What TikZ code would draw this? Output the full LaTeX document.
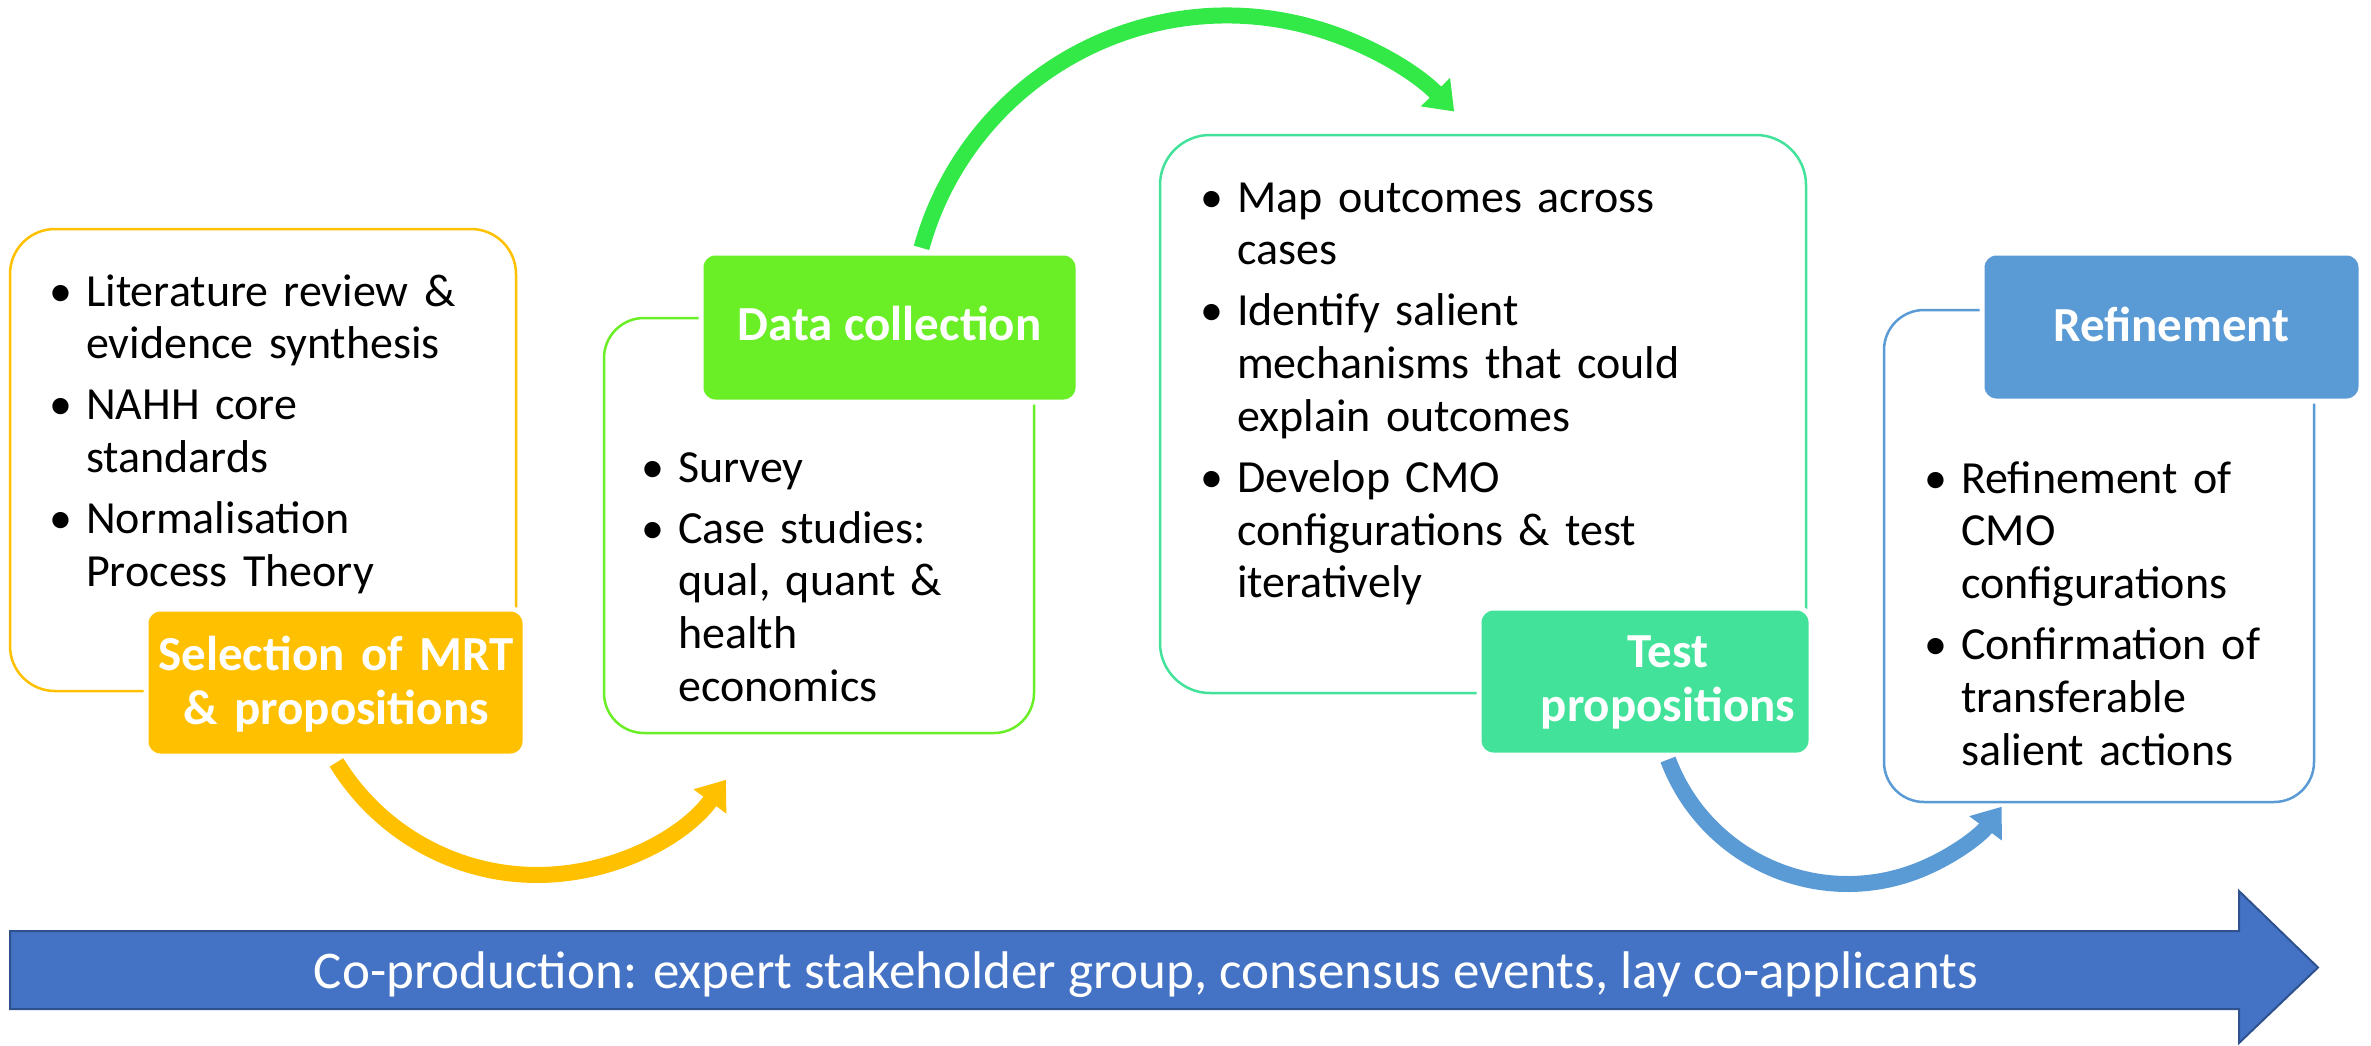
\documentclass[tikz,border=0pt]{standalone}
\usepackage{fontspec}
\setmainfont{Carlito}
\usetikzlibrary{arrows.meta}
\definecolor{ygold}{RGB}{255,192,0}
\definecolor{gbox}{RGB}{106,238,38}
\definecolor{garrow}{RGB}{50,233,72}
\definecolor{tealc}{RGB}{67,226,155}
\definecolor{bluec}{RGB}{91,155,213}
\definecolor{cblue}{RGB}{68,114,196}
\definecolor{cborder}{RGB}{47,82,143}
\newlength{\bind}
\setlength{\bind}{38pt}
\newcommand{\bitem}[1]{\hangindent=\bind\hangafter=1\noindent\makebox[\bind][l]{\hspace*{1pt}•}#1\par}
\begin{document}
\begin{tikzpicture}[x=1pt,y=-1pt,
  outl/.style={draw, line width=2.5pt, fill=white, rounded corners=#1, inner sep=0pt, outer sep=0pt, anchor=north west},
  fillbox/.style={draw=white, line width=5pt, rounded corners=14pt, inner sep=0pt, outer sep=0pt, anchor=north west},
  title/.style={text=white, font=\bfseries\fontsize{49}{54}\selectfont, inner sep=0pt, align=center},
  body/.style={anchor=base west, text width=#1, align=left, inner sep=0pt,
     font=\fontsize{46}{52.7}\selectfont, execute at begin node={\setlength{\parskip}{8.5pt}}},
  arr/.style={line width=16pt, -{Triangle[length=27pt,width=39pt]}}
]
\useasboundingbox (0,0) rectangle (2371,1045);

% outline boxes
\node[outl=45pt, draw=ygold, minimum width=506pt, minimum height=462pt] (o1) at (10,229) {};
\node[outl=40pt, draw=gbox, minimum width=430pt, minimum height=415pt] (o2) at (604,318) {};
\node[outl=50pt, draw=tealc, minimum width=646pt, minimum height=558pt] (o3) at (1160,135) {};
\node[outl=40pt, draw=bluec, minimum width=430pt, minimum height=492pt] (o4) at (1884,310) {};

% body texts
\node[body=460pt] (b1) at (48,306) {%
\bitem{Literature review \&\newline evidence synthesis}%
\bitem{NAHH core\newline standards}%
\bitem{Normalisation\newline Process Theory}};
\node[body=380pt] (b2) at (640,482) {%
\bitem{Survey}%
\bitem{Case studies:\newline qual, quant \&\newline health\newline economics}};
\node[body=590pt] (b3) at (1199,212) {%
\bitem{Map outcomes across\newline cases}%
\bitem{Identify salient\newline mechanisms that could\newline explain outcomes}%
\bitem{Develop CMO\newline configurations \& test\newline iteratively}};
\node[body=380pt] (b4) at (1923,493) {%
\bitem{Refinement of\newline CMO\newline configurations}%
\bitem{Confirmation of\newline transferable\newline salient actions}};

% filled title boxes
\node[fillbox, fill=ygold, minimum width=379pt, minimum height=147pt] (f1) at (146,609) {};
\node[fillbox, fill=gbox, minimum width=377pt, minimum height=149pt] (f2) at (701,253) {};
\node[fillbox, fill=tealc, minimum width=332pt, minimum height=147pt] (f3) at (1479,608) {};
\node[fillbox, fill=bluec, minimum width=379pt, minimum height=148pt] (f4) at (1982,253) {};

\node[title, text width=379pt, anchor=base] (t1) at (336,670) {Selection of MRT\\\& propositions};
\node[title, anchor=base] (t2) at (889.5,340) {Data collection};
\node[title, text width=330pt, anchor=base] (t3) at (1668,667) {Test\\propositions};
\node[title, anchor=base] (t4) at (2171.5,341) {Refinement};

% curved arrows
\draw[arr, ygold] ([shift={(1,6.4)}]f1.south) arc[start angle=148.6, end angle=36.5, radius=235];
\draw[arr, garrow] ([shift={(32,-5.2)}]f2.north) arc[start angle=-164.5, end angle=-44.2, radius=317];
\draw[arr, bluec] ([shift={(23,4.5)}]f3.south) arc[start angle=159.4, end angle=36.7, radius=192];

% co-production arrow
\path[fill=cblue, draw=cborder, line width=2pt] (10,931) -- (2239,931) -- (2239,891) -- (2318,967.5) -- (2239,1043) -- (2239,1009) -- (10,1009) -- cycle;
\node[text=white, font=\fontsize{53}{60}\selectfont, anchor=base, inner sep=0pt] (cp) at (1146,988) {Co-production: expert stakeholder group, consensus events, lay co-applicants};
\end{tikzpicture}
\end{document}
